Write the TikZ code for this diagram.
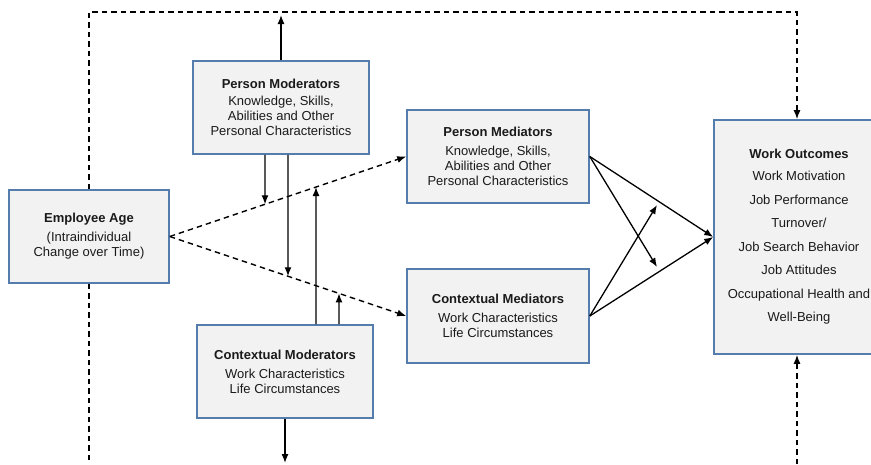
\documentclass[tikz,border=0pt]{standalone}
\usepackage{fontspec}
\setmainfont{Liberation Sans}
\usetikzlibrary{arrows.meta}
\definecolor{boxline}{RGB}{84,124,172}
\definecolor{boxfill}{RGB}{242,242,242}
\definecolor{ink}{RGB}{26,26,26}
\begin{document}
\begin{tikzpicture}[x=1pt,y=-1pt,
  box/.style={draw=boxline, fill=boxfill, line width=1.6pt, align=center,
    inner sep=0pt, text=ink, font=\fontsize{13}{15}\selectfont},
  arr/.style={line width=1.3pt, -{Latex[length=9pt,width=7pt]}},
  dashline/.style={line width=1.4pt, dash pattern=on 5.5pt off 4pt},
  dasharr/.style={dashline, -{Latex[length=9pt,width=7pt]}}]
\useasboundingbox (0,0) rectangle (871,464);
\clip (0,0) rectangle (871,464);

% boxes
\node[box, minimum width=160pt, minimum height=93pt] (age) at (89,236.5)
  {\textbf{Employee Age}\\[4pt](Intraindividual\\Change over Time)};
\node[box, minimum width=176pt, minimum height=93pt] (pmod) at (281,107.5)
  {\textbf{Person Moderators}\\[2pt]Knowledge, Skills,\\Abilities and Other\\Personal Characteristics};
\node[box, minimum width=182pt, minimum height=93pt] (pmed) at (498,156.5)
  {\textbf{Person Mediators}\\[4pt]Knowledge, Skills,\\Abilities and Other\\Personal Characteristics};
\node[box, minimum width=182pt, minimum height=94pt] (cmed) at (498,316)
  {\textbf{Contextual Mediators}\\[4pt]Work Characteristics\\Life Circumstances};
\node[box, minimum width=176pt, minimum height=93pt] (cmod) at (285,371.5)
  {\textbf{Contextual Moderators}\\[4pt]Work Characteristics\\Life Circumstances};
\node[box, minimum width=170pt, minimum height=234pt,
  font=\fontsize{13}{23.5}\selectfont] (out) at (799,237)
  {\textbf{Work Outcomes}\\[-1.5pt]Work Motivation\\Job Performance\\Turnover/\\Job Search Behavior\\Job Attitudes\\Occupational Health and\\Well-Being};

% helper columns for the moderator arrows
\foreach \n/\x in {A/265,B/288,C/316,D/339}{
  \coordinate (top\n) at (\x,0);
  \coordinate (bot\n) at (\x,464);
}
\coordinate (m1) at (intersection of age.east--pmed.west and topA--botA);
\coordinate (m2) at (intersection of age.east--cmed.west and topB--botB);
\coordinate (m3) at (intersection of age.east--pmed.west and topC--botC);
\coordinate (m4) at (intersection of age.east--cmed.west and topD--botD);

% feedback frame
\coordinate (frTL) at (89,12);
\coordinate (frTR) at (797,12);
\coordinate (frBL) at (89,464);
\coordinate (frBR) at (797,464);
\draw[dasharr] (age.north) -- (frTL) -- (frTR) -- (frTR |- out.north);
\draw[dashline] (age.south) -- (frBL);
\draw[dasharr] (frBR) -- (frBR |- out.south);

% age effects on mediators
\draw[dasharr] (age.east) -- (pmed.west);
\draw[dasharr] (age.east) -- (cmed.west);

% moderator arrows
\coordinate (pmTop) at (281,15);
\coordinate (cmBot) at (285,463);
\draw[arr] (pmod.north) -- (pmTop);
\draw[arr] (cmod.south) -- (cmBot);
\draw[arr] (pmod.south -| topA) -- (m1);
\draw[arr] (pmod.south -| topB) -- (m2);
\draw[arr] (cmod.north -| topC) -- (m3);
\draw[arr] (cmod.north -| topD) -- (m4);

% mediators to outcomes
\coordinate (x1) at (657,267);
\coordinate (x2) at (657,205);
\draw[arr] (pmed.east) -- (out.west);
\draw[arr] (pmed.east) -- (x1);
\draw[arr] (cmed.east) -- (x2);
\draw[arr] (cmed.east) -- (out.west);
\end{tikzpicture}
\end{document}
